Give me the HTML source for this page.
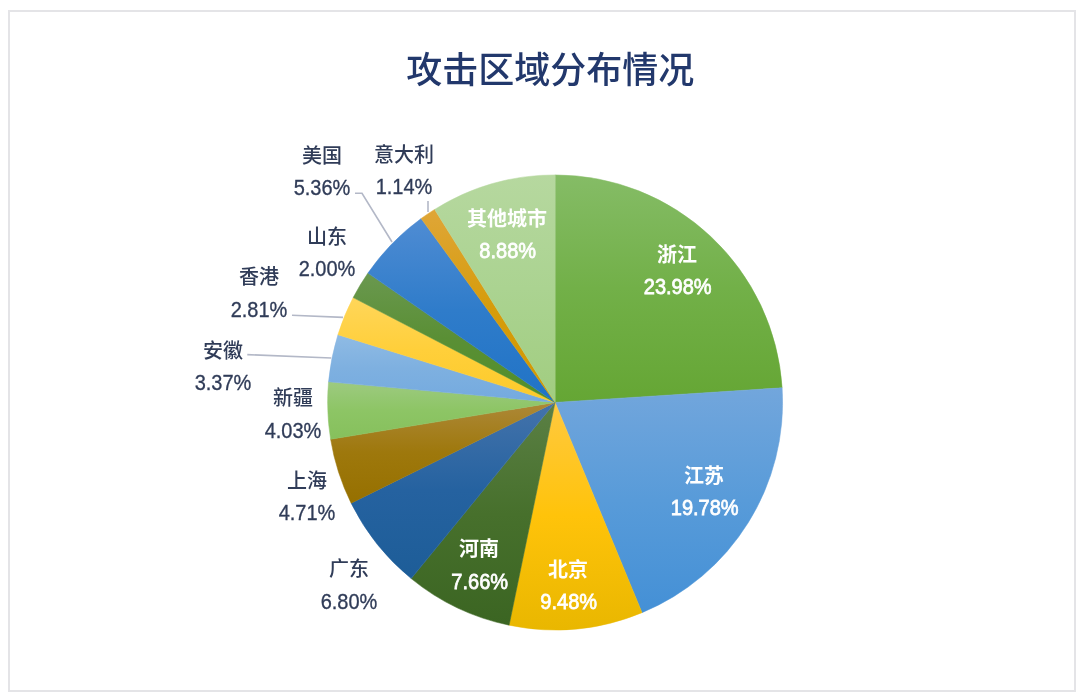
<!DOCTYPE html>
<html lang="zh-CN">
<head>
<meta charset="utf-8">
<title>攻击区域分布情况</title>
<style>
html,body{margin:0;padding:0;background:#fff;}
body{width:1080px;height:698px;overflow:hidden;position:relative;font-family:"Liberation Sans","Noto Sans CJK SC",sans-serif;}
.frame{position:absolute;left:8px;top:10px;width:1064px;height:678px;border:2px solid #e4e4e7;box-sizing:content-box;}
svg{position:absolute;left:0;top:0;}
text{font-family:"Liberation Sans","Noto Sans CJK SC",sans-serif;text-anchor:middle;}
.title{font-size:36px;fill:#22386c;font-weight:500;}
.ld{font-size:20px;fill:#303c58;font-weight:500;}
.nld{stroke:#303c58;stroke-width:0.3px;}
.nlw{font-weight:normal !important;stroke:#fff;stroke-width:0.7px;}
.lw{font-size:20px;fill:#ffffff;font-weight:bold;}
</style>
</head>
<body>
<div class="frame"></div>
<svg width="1080" height="698" viewBox="0 0 1080 698">
<defs>
<linearGradient id="g0" x1="0" y1="0" x2="0" y2="1"><stop offset="0" stop-color="#85bc66"/><stop offset="0.5" stop-color="#72b048"/><stop offset="1" stop-color="#65a634"/></linearGradient>
<linearGradient id="g1" x1="0" y1="0" x2="0" y2="1"><stop offset="0" stop-color="#72a6dc"/><stop offset="0.5" stop-color="#589bd9"/><stop offset="1" stop-color="#4490d6"/></linearGradient>
<linearGradient id="g2" x1="0" y1="0" x2="0" y2="1"><stop offset="0" stop-color="#ffc940"/><stop offset="0.5" stop-color="#ffc30a"/><stop offset="1" stop-color="#e9b700"/></linearGradient>
<linearGradient id="g3" x1="0" y1="0" x2="0" y2="1"><stop offset="0" stop-color="#5b8045"/><stop offset="0.5" stop-color="#47702c"/><stop offset="1" stop-color="#3b6522"/></linearGradient>
<linearGradient id="g4" x1="0" y1="0" x2="0" y2="1"><stop offset="0" stop-color="#4473ab"/><stop offset="0.5" stop-color="#2562a0"/><stop offset="1" stop-color="#1d5d98"/></linearGradient>
<linearGradient id="g5" x1="0" y1="0" x2="0" y2="1"><stop offset="0" stop-color="#ad8838"/><stop offset="0.5" stop-color="#9e780c"/><stop offset="1" stop-color="#967000"/></linearGradient>
<linearGradient id="g6" x1="0" y1="0" x2="0" y2="1"><stop offset="0" stop-color="#9dca80"/><stop offset="0.5" stop-color="#8dc565"/><stop offset="1" stop-color="#86c05c"/></linearGradient>
<linearGradient id="g7" x1="0" y1="0" x2="0" y2="1"><stop offset="0" stop-color="#8fbbe4"/><stop offset="0.5" stop-color="#7eb0e0"/><stop offset="1" stop-color="#74aadf"/></linearGradient>
<linearGradient id="g8" x1="0" y1="0" x2="0" y2="1"><stop offset="0" stop-color="#ffd65a"/><stop offset="0.5" stop-color="#ffcf3a"/><stop offset="1" stop-color="#fbca2a"/></linearGradient>
<linearGradient id="g9" x1="0" y1="0" x2="0" y2="1"><stop offset="0" stop-color="#6a984f"/><stop offset="0.5" stop-color="#5a8f35"/><stop offset="1" stop-color="#518f29"/></linearGradient>
<linearGradient id="g10" x1="0" y1="0" x2="0" y2="1"><stop offset="0" stop-color="#4f8cd3"/><stop offset="0.5" stop-color="#2f7cca"/><stop offset="1" stop-color="#2073c6"/></linearGradient>
<linearGradient id="g11" x1="0" y1="0" x2="0" y2="1"><stop offset="0" stop-color="#dfa638"/><stop offset="0.5" stop-color="#d69c0c"/><stop offset="1" stop-color="#d09800"/></linearGradient>
<linearGradient id="g12" x1="0" y1="0" x2="0" y2="1"><stop offset="0" stop-color="#b6d89f"/><stop offset="0.5" stop-color="#abd391"/><stop offset="1" stop-color="#a1cd80"/></linearGradient>
</defs>
<text class="title" x="550.3" y="83">攻击区域分布情况</text>
<g>
<path d="M555.10,402.40 L555.10,174.90 A227.5,227.5 0 0 1 782.13,387.83 Z" fill="url(#g0)" stroke="url(#g0)" stroke-width="0.5" stroke-linejoin="round"/>
<path d="M555.10,402.40 L782.13,387.83 A227.5,227.5 0 0 1 642.03,612.64 Z" fill="url(#g1)" stroke="url(#g1)" stroke-width="0.5" stroke-linejoin="round"/>
<path d="M555.10,402.40 L642.03,612.64 A227.5,227.5 0 0 1 509.11,625.20 Z" fill="url(#g2)" stroke="url(#g2)" stroke-width="0.5" stroke-linejoin="round"/>
<path d="M555.10,402.40 L509.11,625.20 A227.5,227.5 0 0 1 411.19,578.60 Z" fill="url(#g3)" stroke="url(#g3)" stroke-width="0.5" stroke-linejoin="round"/>
<path d="M555.10,402.40 L411.19,578.60 A227.5,227.5 0 0 1 351.11,503.13 Z" fill="url(#g4)" stroke="url(#g4)" stroke-width="0.5" stroke-linejoin="round"/>
<path d="M555.10,402.40 L351.11,503.13 A227.5,227.5 0 0 1 330.61,439.26 Z" fill="url(#g5)" stroke="url(#g5)" stroke-width="0.5" stroke-linejoin="round"/>
<path d="M555.10,402.40 L330.61,439.26 A227.5,227.5 0 0 1 328.53,381.84 Z" fill="url(#g6)" stroke="url(#g6)" stroke-width="0.5" stroke-linejoin="round"/>
<path d="M555.10,402.40 L328.53,381.84 A227.5,227.5 0 0 1 337.91,334.69 Z" fill="url(#g7)" stroke="url(#g7)" stroke-width="0.5" stroke-linejoin="round"/>
<path d="M555.10,402.40 L337.91,334.69 A227.5,227.5 0 0 1 353.18,297.59 Z" fill="url(#g8)" stroke="url(#g8)" stroke-width="0.5" stroke-linejoin="round"/>
<path d="M555.10,402.40 L353.18,297.59 A227.5,227.5 0 0 1 367.91,273.11 Z" fill="url(#g9)" stroke="url(#g9)" stroke-width="0.5" stroke-linejoin="round"/>
<path d="M555.10,402.40 L367.91,273.11 A227.5,227.5 0 0 1 421.15,218.52 Z" fill="url(#g10)" stroke="url(#g10)" stroke-width="0.5" stroke-linejoin="round"/>
<path d="M555.10,402.40 L421.15,218.52 A227.5,227.5 0 0 1 434.65,209.40 Z" fill="url(#g11)" stroke="url(#g11)" stroke-width="0.5" stroke-linejoin="round"/>
<path d="M555.10,402.40 L434.65,209.40 A227.5,227.5 0 0 1 555.10,174.90 Z" fill="url(#g12)" stroke="url(#g12)" stroke-width="0.5" stroke-linejoin="round"/>
</g>
<path d="M355,193.3 L362,193.3 L392,242" fill="none" stroke="#b3b8c7" stroke-width="1.6"/><path d="M428,201 L428,212" fill="none" stroke="#b3b8c7" stroke-width="1.6"/><path d="M292,315.3 L343,317.4" fill="none" stroke="#b3b8c7" stroke-width="1.6"/><path d="M247.3,354.6 L331.2,358" fill="none" stroke="#b3b8c7" stroke-width="1.6"/>
<g>
<text class="ld" x="322" y="163">美国</text>
<text class="ld nld" transform="translate(322,194.6) scale(1,1.13)">5.36%</text>
<text class="ld" x="404" y="162">意大利</text>
<text class="ld nld" transform="translate(404,193.6) scale(1,1.13)">1.14%</text>
<text class="ld" x="327" y="244">山东</text>
<text class="ld nld" transform="translate(327,275.6) scale(1,1.13)">2.00%</text>
<text class="ld" x="259" y="284">香港</text>
<text class="ld nld" transform="translate(259,316.6) scale(1,1.13)">2.81%</text>
<text class="ld" x="223" y="358">安徽</text>
<text class="ld nld" transform="translate(223,389.6) scale(1,1.13)">3.37%</text>
<text class="ld" x="293" y="405">新疆</text>
<text class="ld nld" transform="translate(293,437.6) scale(1,1.13)">4.03%</text>
<text class="ld" x="307" y="488">上海</text>
<text class="ld nld" transform="translate(307,519.6) scale(1,1.13)">4.71%</text>
<text class="ld" x="349" y="576">广东</text>
<text class="ld nld" transform="translate(349,608.6) scale(1,1.13)">6.80%</text>
<text class="lw" x="479" y="556">河南</text>
<text class="lw nlw" transform="translate(479.7,588.6) scale(1,1.13)">7.66%</text>
<text class="lw" x="568" y="577">北京</text>
<text class="lw nlw" transform="translate(568.7,609.1) scale(1,1.13)">9.48%</text>
<text class="lw" x="704" y="482.7">江苏</text>
<text class="lw nlw" transform="translate(704.7,514.8) scale(1,1.13)">19.78%</text>
<text class="lw" x="677" y="261.6">浙江</text>
<text class="lw nlw" transform="translate(677.7,293.8) scale(1,1.13)">23.98%</text>
<text class="lw" x="507" y="226">其他城市</text>
<text class="lw nlw" transform="translate(507.7,257.6) scale(1,1.13)">8.88%</text>
</g>
</svg>
</body>
</html>
